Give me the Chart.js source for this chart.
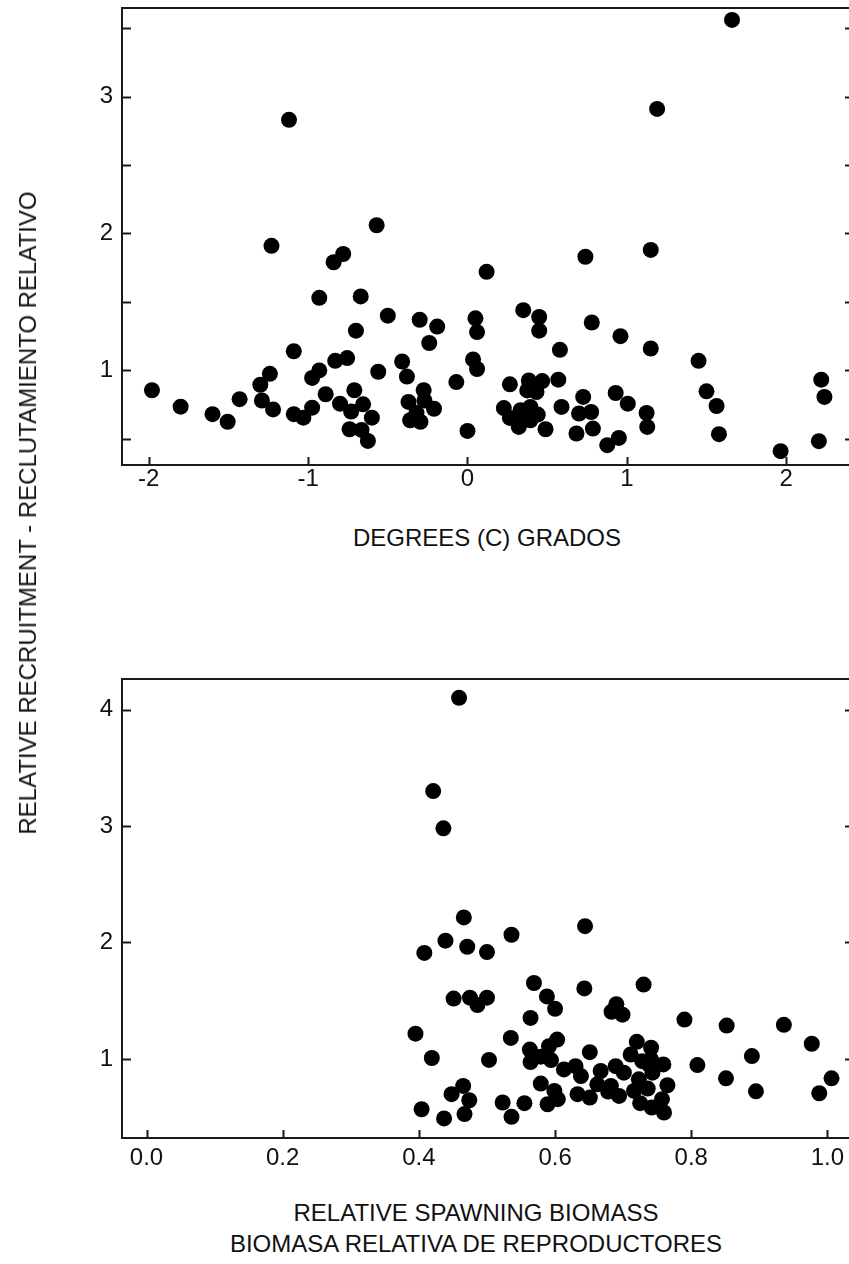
<!DOCTYPE html>
<html>
<head>
<meta charset="utf-8">
<title>Relative recruitment vs temperature and spawning biomass</title>
<script src="https://cdn.jsdelivr.net/npm/chart.js@4.4.1/dist/chart.umd.min.js"></script>
<style>
  html, body {
    margin: 0;
    padding: 0;
    background: #fff;
  }
  body {
    position: relative;
    width: 849px;
    height: 1264px;
    overflow: hidden;
    font-family: "Liberation Sans", Arial, sans-serif;
    color: #111;
  }
  .plot {
    position: absolute;
    left: 0;
  }
  .label {
    position: absolute;
    font-size: 24px;
    line-height: 1;
    white-space: nowrap;
    transform: translate(-50%, -50%);
  }
  .label.vertical {
    transform: translate(-50%, -50%) rotate(-90deg);
  }
</style>
</head>
<body>
<div class="plot" style="top: 0px"><canvas id="temp-chart" width="880" height="500"></canvas></div>
<div class="plot" style="top: 671px"><canvas id="biomass-chart" width="880" height="502"></canvas></div>

<div class="label vertical" style="left: 28px; top: 513px">RELATIVE RECRUITMENT - RECLUTAMIENTO RELATIVO</div>
<div class="label" style="left: 487px; top: 538px">DEGREES (C) GRADOS</div>
<div class="label" style="left: 476px; top: 1213px">RELATIVE SPAWNING BIOMASS</div>
<div class="label" style="left: 476px; top: 1244px">BIOMASA RELATIVA DE REPRODUCTORES</div>

<script>
// Top panel: temperature anomaly (C) vs relative recruitment
const tempDegrees = [
  1.66, -1.12, 1.19, -0.57, -1.23, -0.78, -0.84, 0.74, 1.15, 0.12,
  -0.93, -0.67, 0.35, 0.45, -0.5, -0.3, -0.19, 0.05, 0.06, 0.45,
  0.78, -0.7, -0.24, 0.96, 0.58, 1.15, -1.09, -0.83, -0.755, -0.41,
  0.035, 0.06, 1.45, -0.93, -0.975, -1.24, -0.56, -0.38, -0.07, -1.98,
  -1.3, -1.29, -1.8, -1.6, -1.505, -1.43, -1.22, -1.09, -1.03, -0.975,
  -0.89, -0.8, -0.73, -0.71, -0.655, -0.6, -0.74, -0.665, -0.625, -0.37,
  -0.275, -0.27, -0.36, -0.295, -0.21, -0.32, 0.0, 2.22, 2.24, 2.205,
  1.965, 1.5, 1.563, 1.578, 1.124, 1.128, 0.93, 1.006, 0.726, 0.7,
  0.776, 0.684, 0.787, 0.877, 0.95, 0.59, 0.57, 0.49, 0.266, 0.385,
  0.469, 0.375, 0.433, 0.228, 0.266, 0.322, 0.333, 0.395, 0.395, 0.441,
  0.36,
];
const tempRecruitment = [
  3.56, 2.83, 2.91, 2.06, 1.91, 1.85, 1.79, 1.83, 1.88, 1.72,
  1.53, 1.54, 1.44, 1.39, 1.4, 1.37, 1.32, 1.38, 1.28, 1.29,
  1.35, 1.29, 1.2, 1.25, 1.15, 1.16, 1.14, 1.07, 1.09, 1.065,
  1.08, 1.01, 1.07, 1.0, 0.945, 0.975, 0.99, 0.955, 0.915, 0.855,
  0.895, 0.78, 0.735, 0.68, 0.625, 0.79, 0.715, 0.68, 0.655, 0.728,
  0.826, 0.757, 0.7, 0.855, 0.752, 0.655, 0.57, 0.565, 0.485, 0.77,
  0.855, 0.78, 0.636, 0.624, 0.72, 0.69, 0.558, 0.932, 0.806, 0.483,
  0.41, 0.847, 0.74, 0.534, 0.689, 0.587, 0.835, 0.757, 0.806, 0.685,
  0.696, 0.539, 0.575, 0.454, 0.507, 0.733, 0.932, 0.57, 0.898, 0.927,
  0.922, 0.854, 0.842, 0.725, 0.653, 0.587, 0.709, 0.733, 0.636, 0.677,
  0.67,
];
const tempXTicks = [-2, -1, 0, 1, 2];
const tempYTicks = [0.5, 1, 1.5, 2, 2.5, 3, 3.5];

// Bottom panel: relative spawning biomass vs relative recruitment
const spawningBiomass = [
  0.459, 0.421, 0.436, 0.466, 0.644, 0.439, 0.408, 0.471, 0.5, 0.536,
  0.569, 0.643, 0.73, 0.451, 0.475, 0.486, 0.5, 0.588, 0.6, 0.564,
  0.69, 0.683, 0.699, 0.79, 0.852, 0.936, 0.977, 0.395, 0.535, 0.419,
  0.503, 0.563, 0.591, 0.603, 0.564, 0.579, 0.594, 0.651, 0.465, 0.448,
  0.474, 0.404, 0.437, 0.467, 0.523, 0.536, 0.555, 0.579, 0.589, 0.599,
  0.604, 0.613, 0.63, 0.638, 0.633, 0.651, 0.667, 0.662, 0.682, 0.689,
  0.72, 0.741, 0.711, 0.701, 0.728, 0.741, 0.759, 0.743, 0.723, 0.678,
  0.765, 0.716, 0.736, 0.694, 0.757, 0.725, 0.742, 0.76, 0.809, 0.889,
  0.851, 0.895, 1.006, 0.988, 0.738,
];
const biomassRecruitment = [
  4.1, 3.3, 2.98, 2.215, 2.14, 2.015, 1.91, 1.963, 1.917, 2.066,
  1.652, 1.605, 1.638, 1.518, 1.526, 1.463, 1.526, 1.537, 1.43, 1.352,
  1.47, 1.405, 1.38, 1.338, 1.286, 1.293, 1.13, 1.217, 1.18, 1.008,
  0.991, 1.08, 1.109, 1.166, 0.973, 1.019, 0.99, 1.058, 0.768, 0.697,
  0.645, 0.568, 0.489, 0.526, 0.626, 0.503, 0.62, 0.788, 0.611, 0.725,
  0.654, 0.91, 0.938, 0.853, 0.697, 0.668, 0.896, 0.782, 0.768, 0.938,
  1.147, 1.096, 1.038, 0.882, 0.981, 0.996, 0.953, 0.882, 0.825, 0.72,
  0.774, 0.725, 0.745, 0.682, 0.654, 0.62, 0.583, 0.54, 0.947, 1.024,
  0.833, 0.722, 0.833, 0.705, 0.951,
];
const biomassXTicks = [0, 0.2, 0.4, 0.6, 0.8, 1.0];
const biomassYTicks = [1, 2, 3, 4];

const FONT = "'Liberation Sans', Arial, sans-serif";
const INK = "#1a1a1a";

// Frame on top/right plus short tick marks pointing into the plot
const innerFrame = {
  id: "innerFrame",
  beforeDatasetsDraw(chart) {
    const { ctx, chartArea: a, scales } = chart;
    ctx.save();
    ctx.strokeStyle = INK;
    ctx.lineWidth = 2;
    ctx.beginPath();
    ctx.moveTo(a.left - 1, a.top);
    ctx.lineTo(a.right, a.top);
    ctx.lineTo(a.right, a.bottom);
    scales.y.ticks.forEach((t) => {
      const y = Math.round(scales.y.getPixelForValue(t.value)) + 0.5;
      ctx.moveTo(a.left, y);
      ctx.lineTo(a.left + 9, y);
      ctx.moveTo(a.right, y);
      ctx.lineTo(a.right - 9, y);
    });
    scales.x.ticks.forEach((t) => {
      const x = Math.round(scales.x.getPixelForValue(t.value)) + 0.5;
      ctx.moveTo(x, a.bottom);
      ctx.lineTo(x, a.bottom - 8);
    });
    ctx.stroke();
    ctx.restore();
  },
};

function toPoints(xs, ys) {
  return xs.map((x, i) => ({ x: x, y: ys[i] }));
}

function axis(min, max, ticks, size, padding, format) {
  return {
    type: "linear",
    min: min,
    max: max,
    afterBuildTicks: (scale) => {
      scale.ticks = ticks.map((v) => ({ value: v }));
    },
    // fixed box size, no extra room asked for overhanging labels
    afterFit: (scale) => {
      if (scale.isHorizontal()) scale.height = size;
      else scale.width = size;
      scale.paddingTop = 0;
      scale.paddingBottom = 0;
      scale.paddingLeft = 0;
      scale.paddingRight = 0;
    },
    grid: { display: true, drawOnChartArea: false, drawTicks: false },
    border: { display: true, color: INK, width: 2 },
    ticks: {
      color: "#111",
      font: { family: FONT, size: 24 },
      padding: padding,
      autoSkip: false,
      maxRotation: 0,
      callback: format,
    },
  };
}

function scatterChart(canvasId, points, xAxis, yAxis) {
  const ctx = document.getElementById(canvasId).getContext("2d");
  return new Chart(ctx, {
    type: "scatter",
    data: {
      datasets: [
        {
          data: points,
          backgroundColor: "#000",
          borderWidth: 0,
          pointRadius: 8,
          pointHoverRadius: 8,
        },
      ],
    },
    options: {
      responsive: false,
      animation: false,
      devicePixelRatio: 1,
      layout: {
        autoPadding: false,
        padding: { left: 0, top: 8, right: 26, bottom: 0 },
      },
      plugins: {
        legend: { display: false },
        tooltip: { enabled: false },
      },
      scales: { x: xAxis, y: yAxis },
    },
    plugins: [innerFrame],
  });
}

function initTempChart() {
  scatterChart(
    "temp-chart",
    toPoints(tempDegrees, tempRecruitment),
    axis(-2.168, 2.4255, tempXTicks, 35, 0, (v) => String(v)),
    axis(0.309, 3.647, tempYTicks, 122, 9,
      (v) => (Number.isInteger(v) ? String(v) : "")),
  );
}

function initBiomassChart() {
  scatterChart(
    "biomass-chart",
    toPoints(spawningBiomass, biomassRecruitment),
    axis(-0.036, 1.039, biomassXTicks, 35, 6, (v) => v.toFixed(1)),
    axis(0.321, 4.262, biomassYTicks, 122, 9, (v) => String(v)),
  );
}

initTempChart();
initBiomassChart();
</script>
</body>
</html>
